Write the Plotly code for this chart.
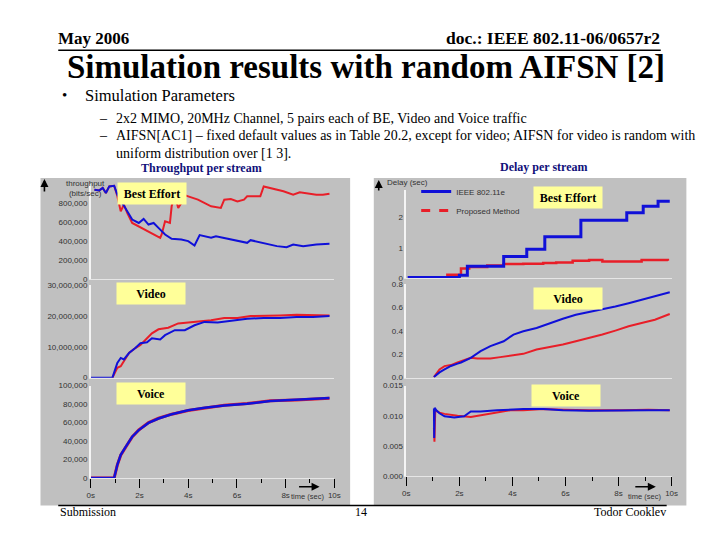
import plotly.graph_objects as go

# ---- data (time in seconds) ----
# throughput per stream, Best Effort (bits/sec)
be_tp_t_ieee = [0.15, 0.35, 0.49, 0.62, 0.76, 0.96, 1.09, 1.36, 1.70, 1.97, 2.17, 2.37, 2.58, 2.78, 3.05,
                3.32, 3.72, 4.00, 4.26, 4.47, 4.67, 4.94, 5.14, 5.48, 6.02, 6.42, 6.56, 7.10, 7.64, 8.04,
                8.31, 8.72, 9.26, 9.80]
be_tp_ieee = [947e3, 940e3, 965e3, 912e3, 982e3, 989e3, 895e3, 772e3, 632e3, 596e3, 639e3, 579e3, 596e3,
              544e3, 474e3, 428e3, 421e3, 404e3, 358e3, 467e3, 456e3, 439e3, 456e3, 439e3, 404e3, 386e3,
              414e3, 379e3, 351e3, 340e3, 368e3, 351e3, 368e3, 375e3]
be_tp_t_prop = [0.15, 0.35, 0.49, 0.62, 0.76, 0.96, 1.09, 1.23, 1.36, 1.50, 1.70, 2.24, 2.51, 2.85, 2.91,
                3.05, 3.25, 3.32, 3.45, 3.59, 3.72, 3.79, 4.00, 4.40, 4.94, 5.34, 5.48, 5.75, 6.02, 6.29,
                6.42, 6.96, 7.10, 7.37, 7.91, 8.31, 8.58, 9.26, 9.53, 9.80]
be_tp_prop = [947e3, 940e3, 965e3, 912e3, 982e3, 989e3, 880e3, 719e3, 789e3, 700e3, 596e3, 526e3, 491e3,
              439e3, 474e3, 614e3, 596e3, 772e3, 895e3, 754e3, 807e3, 895e3, 877e3, 842e3, 772e3, 754e3,
              842e3, 849e3, 824e3, 842e3, 877e3, 877e3, 982e3, 965e3, 930e3, 895e3, 919e3, 895e3, 895e3,
              905e3]

# throughput per stream, Video (bits/sec)
vi_tp_t_ieee = [0.0, 0.89, 1.09, 1.23, 1.36, 1.57, 1.83, 2.04, 2.31, 2.51, 2.85, 3.05, 3.45, 3.86, 4.26,
                4.67, 5.21, 5.75, 6.42, 7.10, 7.77, 8.45, 9.12, 9.80]
vi_tp_ieee = [0, 0, 4.8e6, 6.4e6, 5.9e6, 8.0e6, 9.6e6, 11.2e6, 11.5e6, 12.8e6, 12.4e6, 13.8e6, 15.4e6,
              15.4e6, 17.0e6, 18.1e6, 17.9e6, 18.4e6, 19.1e6, 19.4e6, 19.4e6, 19.7e6, 19.7e6, 20.0e6]
vi_tp_t_prop = [0.89, 1.09, 1.23, 1.36, 1.57, 1.83, 2.04, 2.24, 2.51, 2.78, 3.18, 3.59, 4.00, 4.40, 4.94,
                5.48, 6.02, 6.56, 7.10, 7.77, 8.45, 9.12, 9.80]
vi_tp_prop = [0, 3.2e6, 3.7e6, 5.3e6, 8.0e6, 9.6e6, 10.6e6, 12.2e6, 14.4e6, 15.7e6, 16.2e6, 17.6e6, 17.9e6,
              18.1e6, 18.6e6, 19.4e6, 19.4e6, 20.0e6, 20.0e6, 20.2e6, 20.4e6, 20.2e6, 20.2e6]

# throughput per stream, Voice (bits/sec)
vo_tp_t = [0.0, 0.96, 1.09, 1.23, 1.44, 1.70, 1.97, 2.37, 2.78, 3.32, 4.00, 4.67, 5.48, 6.42, 7.37, 8.45, 9.80]
vo_tp_ieee = [0, 0, 14.3e3, 25.0e3, 33.9e3, 44.6e3, 51.8e3, 59.6e3, 64.3e3, 68.9e3, 73.2e3, 76.0e3, 78.5e3,
              80.3e3, 83.2e3, 84.6e3, 86.4e3]
vo_tp_prop = [0, 0, 14.0e3, 24.6e3, 33.5e3, 44.4e3, 51.9e3, 59.9e3, 64.6e3, 69.0e3, 73.0e3, 75.8e3, 78.6e3,
              80.5e3, 83.5e3, 84.4e3, 86.2e3]

# delay per stream, Best Effort (sec)
be_dl_t_ieee = [0.05, 2.00, 2.30, 3.67, 4.54, 5.22, 6.58, 8.31, 8.93, 9.49, 9.93]
be_dl_ieee = [0.03, 0.10, 0.40, 0.72, 0.95, 1.36, 1.90, 2.15, 2.36, 2.53, 2.53]
be_dl_t_prop = [1.50, 2.06, 2.37, 3.05, 3.67, 4.41, 5.16, 5.65, 6.27, 6.89, 7.39, 8.38, 8.87, 9.86]
be_dl_prop = [0.12, 0.32, 0.37, 0.42, 0.47, 0.48, 0.50, 0.52, 0.58, 0.60, 0.55, 0.55, 0.60, 0.58]

# delay per stream, Video (sec)
vi_dl_t = [1.04, 1.25, 1.44, 1.68, 1.93, 2.06, 2.43, 2.68, 2.80, 3.17, 3.54, 3.67, 4.04, 4.41, 4.91, 5.40,
           5.90, 6.39, 6.89, 7.39, 7.88, 8.38, 8.87, 9.37, 9.93]
vi_dl_ieee = [0.006, 0.045, 0.07, 0.10, 0.12, 0.13, 0.17, 0.205, 0.227, 0.27, 0.30, 0.312, 0.369, 0.397,
              0.426, 0.468, 0.505, 0.539, 0.562, 0.587, 0.61, 0.638, 0.667, 0.695, 0.732]
vi_dl_prop = [0.006, 0.071, 0.099, 0.108, 0.13, 0.142, 0.17, 0.165, 0.165, 0.165, 0.176, 0.18, 0.193, 0.204,
              0.241, 0.261, 0.284, 0.312, 0.34, 0.369, 0.403, 0.44, 0.468, 0.496, 0.545]

# delay per stream, Voice (sec)
vo_dl_t_ieee = [1.04, 1.05, 1.07, 1.13, 1.25, 1.44, 1.81, 2.18, 2.43, 2.80, 3.42, 3.92, 4.41, 5.16, 5.90,
                6.89, 8.13, 9.12, 9.93]
vo_dl_ieee = [0.0112, 0.0063, 0.0113, 0.0109, 0.0104, 0.0099, 0.0097, 0.0099, 0.0107, 0.0107, 0.0109,
              0.0110, 0.0111, 0.0111, 0.0109, 0.0108, 0.0109, 0.0109, 0.0109]
vo_dl_t_prop = [1.04, 1.06, 1.09, 1.25, 1.44, 1.68, 1.93, 2.43, 2.80, 3.42, 3.92, 4.41, 5.16, 5.90, 6.89,
                8.13, 9.12, 9.93]
vo_dl_prop = [0.0080, 0.0057, 0.0109, 0.0105, 0.0103, 0.0101, 0.0100, 0.0098, 0.0101, 0.0105, 0.0109,
              0.0109, 0.0111, 0.0110, 0.0109, 0.0109, 0.0110, 0.0109]

series_names = ["IEEE 802.11e", "Proposed Method"]
time_ticks = [0, 2, 4, 6, 8, 10]
time_labels = ["0s", "2s", "4s", "6s", "8s", "10s"]

BLUE = "#1010d8"
RED = "#e81e28"
GRAY = "#c0c0c0"
SERIF = "Liberation Serif"
SANS = "Liberation Sans"

fig = go.Figure()


def line(x, y, color, ax, width=2, shape="linear"):
    fig.add_trace(go.Scatter(x=x, y=y, mode="lines", line=dict(color=color, width=width, shape=shape),
                             xaxis="x" + ax, yaxis="y" + ax, showlegend=False, hoverinfo="skip"))


# red first so the blue line sits on top, as in the original
line(be_tp_t_prop, be_tp_prop, RED, "")
line(be_tp_t_ieee, be_tp_ieee, BLUE, "")
line(vi_tp_t_prop, vi_tp_prop, RED, "2")
line(vi_tp_t_ieee, vi_tp_ieee, BLUE, "2")
line(vo_tp_t, vo_tp_prop, RED, "3", width=3)
line(vo_tp_t, vo_tp_ieee, BLUE, "3", width=2.5)
line(be_dl_t_prop, be_dl_prop, RED, "4", width=2.5, shape="hv")
line(be_dl_t_ieee, be_dl_ieee, BLUE, "4", width=3, shape="hv")
line(vi_dl_t, vi_dl_prop, RED, "5")
line(vi_dl_t, vi_dl_ieee, BLUE, "5")
line(vo_dl_t_prop, vo_dl_prop, RED, "6")
line(vo_dl_t_ieee, vo_dl_ieee, BLUE, "6")

# legend entries (drawn once in the Best Effort delay plot)
for name, color, dash in zip(series_names, [BLUE, RED], ["solid", "dash"]):
    fig.add_trace(go.Scatter(x=[None], y=[None], mode="lines", name=name, xaxis="x4", yaxis="y4",
                             line=dict(color=color, width=3, dash=dash)))

# axis geometry (paper fractions of the 720x540 slide)
LX = [88 / 720, 335 / 720]
RX = [408 / 720, 677 / 720]
rows = {"be": [1 - 280 / 540, 1 - 183 / 540], "vi": [1 - 380 / 540, 1 - 286 / 540],
        "vo": [1 - 482 / 540, 1 - 388 / 540]}
rows_r = {"be": [1 - 279 / 540, 1 - 189 / 540], "vi": [1 - 380 / 540, 1 - 285 / 540],
          "vo": [1 - 480 / 540, 1 - 388 / 540]}

tick_font = dict(family=SANS, size=8, color="#333333")


def xax(dom, anchor, bottom):
    d = dict(domain=dom, anchor=anchor, range=[0, 10], showgrid=False, zeroline=False,
             showline=True, linecolor="#e6e6e6", linewidth=1)
    if bottom:
        d.update(tickvals=time_ticks, ticktext=time_labels, ticks="outside", ticklen=9,
                 tickcolor="black", tickfont=tick_font,
                 minor=dict(tickvals=[1, 3, 5, 7, 9], ticks="outside", ticklen=4, tickcolor="black"))
    else:
        d.update(showticklabels=False, ticks="")
    return d


def yax(dom, anchor, rng, vals, texts):
    return dict(domain=dom, anchor=anchor, range=rng, tickvals=vals, ticktext=texts, showgrid=False,
                zeroline=False, showline=True, linecolor="#f4f4f4", linewidth=1.5, ticks="",
                tickfont=tick_font)


fig.update_layout(
    xaxis=xax(LX, "y", False),
    xaxis2=xax(LX, "y2", False),
    xaxis3=xax(LX, "y3", True),
    xaxis4=xax(RX, "y4", False),
    xaxis5=xax(RX, "y5", False),
    xaxis6=xax(RX, "y6", True),
    yaxis=yax(rows["be"], "x", [0, 1.008e6], [0, 2e5, 4e5, 6e5, 8e5],
              ["0", "200,000", "400,000", "600,000", "800,000"]),
    yaxis2=yax(rows["vi"], "x2", [0, 30e6], [0, 10e6, 20e6, 30e6],
               ["0", "10,000,000", "20,000,000", "30,000,000"]),
    yaxis3=yax(rows["vo"], "x3", [0, 100e3], [0, 20e3, 40e3, 60e3, 80e3, 100e3],
               ["0", "20,000", "40,000", "60,000", "80,000", "100,000"]),
    yaxis4=yax(rows_r["be"], "x4", [0, 2.9], [0, 1, 2], ["0", "1", "2"]),
    yaxis5=yax(rows_r["vi"], "x5", [0, 0.8], [0, 0.2, 0.4, 0.6, 0.8], ["0.0", "0.2", "0.4", "0.6", "0.8"]),
    yaxis6=yax(rows_r["vo"], "x6", [0, 0.015], [0, 0.005, 0.010, 0.015],
               ["0.000", "0.005", "0.010", "0.015"]),
)

# black grid lines (the original only draws some of them)
grid = {"y": [2e5, 4e5, 6e5], "y2": [10e6], "y3": [20e3, 40e3, 60e3, 80e3],
        "y4": [1], "y5": [0.2, 0.6], "y6": [0.010]}
for ax, vals in grid.items():
    xr = "x" + ax[1:]
    for v in vals:
        fig.add_shape(type="line", xref=xr + " domain", yref=ax, x0=0, x1=1, y0=v, y1=v,
                      line=dict(color="black", width=1), layer="below")

# gray chart panels
for x0, x1 in [(37, 351), (375, 692)]:
    fig.add_shape(type="rect", xref="paper", yref="paper", x0=x0 / 720, x1=x1 / 720,
                  y0=1 - 510 / 540, y1=1 - 177 / 540, fillcolor=GRAY, line=dict(width=0), layer="below")

# header underline and footer line
fig.add_shape(type="line", xref="paper", yref="paper", x0=55 / 720, x1=666 / 720,
              y0=1 - 47 / 540, y1=1 - 47 / 540, line=dict(color="black", width=1.5))
fig.add_shape(type="line", xref="paper", yref="paper", x0=55 / 720, x1=672 / 720,
              y0=1 - 510 / 540, y1=1 - 510 / 540, line=dict(color="black", width=1.5))


def txt(x, y, s, size, anchor="left", bold=False, color="black", family=SERIF, **kw):
    if bold:
        s = "<b>" + s + "</b>"
    fig.add_annotation(x=x / 720, y=1 - y / 540, xref="paper", yref="paper", text=s, showarrow=False,
                       xanchor=anchor, yanchor="middle", font=dict(family=family, size=size, color=color),
                       **kw)


txt(53, 35, "May 2006", 17, bold=True)
txt(667, 35, "doc.: IEEE 802.11-06/0657r2", 17.5, anchor="right", bold=True)
txt(367, 64, "Simulation results with random AIFSN [2]", 33, anchor="center", bold=True)
txt(57, 93, "•", 15)
txt(80, 93, "Simulation Parameters", 16.5)
txt(94, 116, "–", 14)
txt(112, 116, "2x2 MIMO, 20MHz Channel, 5 pairs each of BE, Video and Voice traffic", 14)
txt(94, 134, "–", 14)
txt(112, 134, "AIFSN[AC1] – fixed default values as in Table 20.2, except for video; AIFSN for video is random with",
    14)
txt(112, 152, "uniform distribution over [1 3].", 14)
txt(200, 167, "Throughput per stream", 12, anchor="center", bold=True, color="#10107a")
txt(548, 166, "Delay per stream", 12, anchor="center", bold=True, color="#10107a")

# yellow category boxes
for x, y, s in [(150, 193, "Best Effort"), (149, 294, "Video"), (149, 396, "Voice"),
                (572, 197, "Best Effort"), (572, 299, "Video"), (570, 398, "Voice")]:
    txt(x, y, s, 12, anchor="center", bold=True, bgcolor="#ffff99", width=66, height=19)

# axis captions
txt(61, 188, "throughput<br>(bits/sec)", 8, family=SANS, color="#333333")
txt(386, 182, "Delay (sec)", 8, family=SANS, color="#333333")
txt(327, 501, "time (sec)", 7.5, anchor="right", family=SANS, color="#333333")
txt(668, 501, "time (sec)", 7.5, anchor="right", family=SANS, color="#333333")
for x, y, ax_, ay_ in [(41, 178, 0, 14), (380, 179, 0, 12), (320, 491, -22, 0), (661, 491, -22, 0)]:
    fig.add_annotation(x=x / 720, y=1 - y / 540, xref="paper", yref="paper", text="", showarrow=True,
                       arrowhead=2, arrowsize=1, arrowwidth=1.6, arrowcolor="black", ax=ax_, ay=ay_)

txt(55, 517, "Submission", 12)
txt(362, 517, "14", 12, anchor="center")
txt(673, 517, "Todor Cooklev", 12, anchor="right")

fig.update_layout(
    width=720, height=540, autosize=False, margin=dict(l=0, r=0, t=0, b=0),
    paper_bgcolor="white", plot_bgcolor=GRAY,
    legend=dict(x=418 / 720, y=1 - 176 / 540, xanchor="left", yanchor="top", bgcolor="rgba(0,0,0,0)",
                font=dict(family=SANS, size=8, color="#333333"), tracegroupgap=0, itemwidth=30),
)

# the page body's default margin would push the 720x540 figure off the window
fig.write_html("out.html", config={"displayModeBar": False},
               post_script="document.body.style.margin='0';")
